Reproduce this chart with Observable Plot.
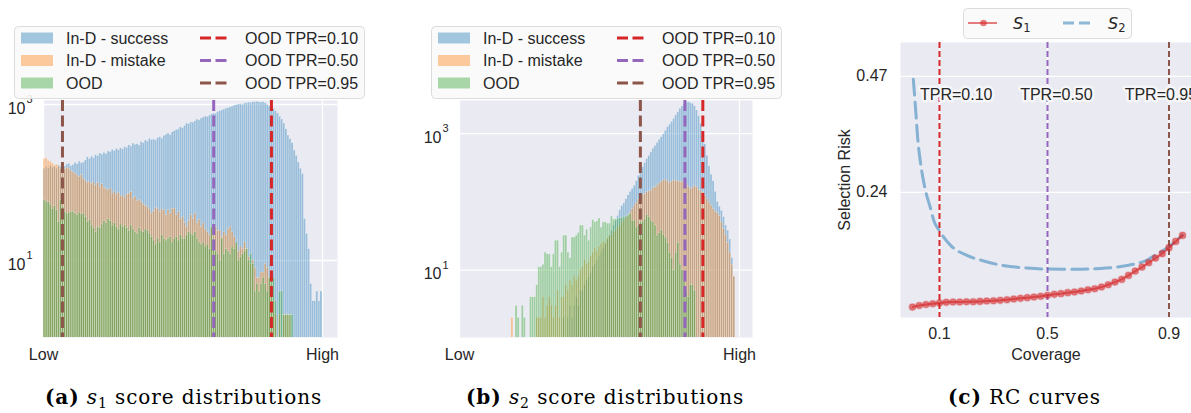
<!DOCTYPE html>
<html><head><meta charset="utf-8">
<script src="https://cdn.jsdelivr.net/npm/d3@7"></script>
<script src="https://cdn.jsdelivr.net/npm/@observablehq/plot@0.6"></script>
<style>
body{margin:0;background:#fff;}
#root{position:relative;width:1191px;height:413px;overflow:hidden;background:#fff;font-family:"Liberation Sans",Arial,sans-serif;}
.cap{position:absolute;top:385px;font-family:"DejaVu Serif",serif;font-size:20px;letter-spacing:0.9px;line-height:24px;color:#000;white-space:nowrap;}
.cap sub{font-size:70%;vertical-align:-0.25em;line-height:0;}
</style></head><body><div id="root"></div>
<script>
// ---------------- data ----------------
const N = 135; // common bins, score normalised Low=0 .. High=1
const seriesNames = ["In-D - success", "In-D - mistake", "OOD"];
const thrNames = ["OOD TPR=0.10", "OOD TPR=0.50", "OOD TPR=0.95"];

// panel (a): s1 score histogram counts
const a_success = [150,158,152,163,155,160,150,165,158,166,
160,170,174,162,168,178,172,185,176,180,
192,211,200,215,205,225,218,235,228,240,
232,250,245,262,252,270,258,275,265,285,
278,300,290,316,305,310,298,330,320,345,
335,363,350,355,346,372,380,365,395,410,
424,405,440,455,470,480,512,495,530,570,
560,590,585,610,640,625,660,680,700,690,
720,745,765,760,800,820,840,860,885,900,
920,940,970,985,1000,1010,990,1030,1040,1060,
1050,1080,1070,1085,1070,1060,1075,1040,990,950,
915,880,820,765,700,640,570,480,400,360,
320,257,220,180,150,128,34,22,14,5,
3,3,4,3,4];
const a_mistake = [200,205,190,185,175,165,170,160,150,143,
148,155,150,140,135,128,123,118,125,110,
105,99,102,96,100,92,99,88,95,85,
82,79,84,72,76,70,74,66,68,64,
70,72,75,62,65,58,60,56,52,50,
48,45,40,43,47,46,42,45,44,38,
44,40,46,46,38,42,34,36,30,27,
32,38,34,40,30,33,27,30,25,23,
21,26,22,27,24,24,20,23,21,25,
27,23,20,16,13,15,14,17,14,11,
9,10,8,6,6,7,7,9,8,6,
5,3,2,0,2,0,2,2,2,2,
0,0,0,0,0,0,0,0,0,0,
0,0,0,0,0];
const a_ood = [59,57,56,52,46,50,44,31,59,48,
42,40,41,42,42,40,38,41,39,40,
36,31,33,28,26,23,27,26,29,32,
30,34,32,28,30,27,25,29,27,28,
26,24,28,25,23,22,26,24,23,25,
24,22,20,18,16,19,17,21,19,18,
19,20,17,19,20,18,21,19,19,21,
23,22,21,23,19,17,16,17,15,16,
14,27,16,13,12,10,19,12,14,13,
12,15,14,17,10,11,12,13,14,10,
12,9,4,5,4,5,6,5,4,6,
6,6,3,0,4,4,2,2,2,2,
2,0,0,0,0,0,0,0,0,0,
0,0,0,0,0];
const a_thr = [0.817, 0.61, 0.068]; // TPR 0.10, 0.50, 0.95

// panel (b): s2 score histogram counts
const b_success = [0,0,0,0,0,0,0,0,0,0,
0,0,0,0,0,0,0,0,0,0,
0,0,0,0,0,0,0,0,0,0,
0,0,0,0,0,0,0,0,0,0,
0,0,0,0,0,0,0,0,0,0,
2,0,2,3,2,3,4,3,5,5,
6,7,8,9,11,12,14,16,18,21,
24,28,32,38,45,52,62,75,87,95,
109,125,140,155,172,200,240,286,320,370,
424,470,530,600,660,730,810,883,980,1100,
1240,1350,1480,1640,1850,2050,2300,2500,2650,2820,
2880,2800,2730,2500,2180,1800,1400,1000,700,474,
330,250,200,140,100,85,74,60,45,38,
28,15,8,0,0];
const b_mistake = [0,0,0,0,0,0,0,0,0,0,
0,0,0,0,0,0,0,0,0,0,
0,0,0,0,0,2,0,0,0,0,
0,0,0,0,0,0,0,2,2,2,
4,2,3,4,3,2,3,5,2,4,
4,6,5,7,6,8,7,8,10,11,
14,12,13,16,18,21,19,22,24,26,
25,29,31,33,36,38,42,45,50,54,
58,63,70,78,88,97,108,118,125,130,
138,142,145,158,165,172,185,195,205,210,
200,188,198,205,204,200,195,198,192,180,
165,154,160,170,163,150,145,137,122,109,
98,88,78,72,68,62,50,40,33,25,
18,12,8,0,0];
const b_ood = [0,0,0,0,0,0,0,0,0,0,
0,0,0,0,0,0,0,0,0,0,
0,0,0,0,0,0,0,3,2,0,
3,2,0,0,4,4,4,6,11,11,
12,18,17,17,11,17,27,27,11,18,
32,32,18,15,30,30,32,35,45,45,
32,39,27,42,54,50,52,57,42,50,
50,48,48,61,55,56,56,58,58,60,
61,63,66,53,53,42,45,50,50,55,
64,60,53,50,45,32,35,38,33,30,
25,18,15,10,18,25,12,10,7,5,
4,6,6,5,0,0,0,0,0,0,
0,0,0,0,0,0,0,0,0,0,
0,0,0,0,0];
const b_thr = [0.869, 0.805, 0.646];

// panel (c): risk-coverage curves
const s1_cov = [0,0.025,0.05,0.075,0.1,0.125,0.15,0.175,0.2,0.225,0.25,0.275,0.3,0.325,0.35,0.375,0.4,0.425,0.45,0.475,0.5,
0.525,0.55,0.575,0.6,0.625,0.65,0.675,0.7,0.725,0.75,0.775,0.8,0.825,0.85,0.875,0.9,0.925,0.95,0.975,1.0];
const s1_risk = [0.0126,0.0159,0.0179,0.0193,0.0206,0.022,0.0226,0.0226,0.0233,0.0233,0.0239,0.0246,0.0253,0.026,0.0273,0.0286,0.03,0.0313,0.0326,0.034,0.036,
0.0379,0.0393,0.0412,0.0425,0.0444,0.0471,0.049,0.0523,0.057,0.0622,0.0675,0.0754,0.084,0.0919,0.1006,0.1097,0.1185,0.1304,0.1428,0.1547];
const s2_cov = [0.003,0.011,0.020,0.032,0.048,0.067,0.079,0.101,0.141,0.202,0.264,0.326,0.425,0.499,0.598,0.696,0.795,0.869,0.906,0.943,0.999];
const s2_risk = [0.464,0.409,0.343,0.29,0.244,0.208,0.184,0.163,0.135,0.115,0.104,0.096,0.090,0.088,0.0875,0.089,0.095,0.106,0.118,0.130,0.155];
const tprCov = [0.1, 0.5, 0.95];
const tprText = ["TPR=0.10", "TPR=0.50", "TPR=0.95"];
const tprLabelCov = [0.162, 0.533, 0.92];
const tprLabelRisk = 0.434;
const covTicks = [0.1, 0.5, 0.95];
const covTickLabels = ["0.1", "0.5", "0.9"];
const riskTicks = [0.24, 0.47];
const histTicks = [10, 1000];
const histExp = ["1", "3"];

// ---------------- style ----------------
const C = {blue:"#1f77b4", orange:"#ff7f0e", green:"#2ca02c", red:"#d62728", purple:"#9467bd", brown:"#8c564b", bg:"#eaeaf2", text:"#262626"};
const thrColors = [C.red, C.purple, C.brown];
const baseStyle = {background:"transparent", color:C.text, fontFamily:"'Liberation Sans', Arial, sans-serif", fontSize:"16px", overflow:"visible"};
const root = document.getElementById("root");

function place(el, left, top) {
  el.style.position = "absolute"; el.style.left = left + "px"; el.style.top = top + "px";
  root.appendChild(el);
}

function hist(success, mistake, ood, thr, yMax, width, mLeft, mRight, xMax) {
  const mk = arr => arr.map((c, i) => ({x1: i / N, x2: (i + 1) / N, c})).filter(d => d.c > 0);
  const bar = (arr, color) => Plot.rectY(mk(arr), {x1:"x1", x2:"x2", y1:0.5, y2:"c", fill:color, fillOpacity:0.4,
    stroke:"#ffffff", strokeOpacity:0.45, strokeWidth:0.5, clip:true});
  return Plot.plot({
    width, height:370, marginLeft:mLeft, marginRight:mRight, marginTop:100, marginBottom:33,
    style: baseStyle,
    x: {domain:[0, xMax], label:null},
    y: {type:"log", domain:[1.03, yMax], label:null},
    marks: [
      Plot.frame({fill:C.bg, stroke:null}),
      Plot.gridY(histTicks, {stroke:"#fff", strokeOpacity:1, strokeWidth:1.3}),
      Plot.gridX([0, 1], {stroke:"#fff", strokeOpacity:1, strokeWidth:1.3}),
      bar(success, C.blue), bar(mistake, C.orange), bar(ood, C.green),
      ...thr.map((t, i) => Plot.ruleX([t], {stroke:thrColors[i], strokeWidth:3, strokeDasharray:"11,4.5"})),
      Plot.axisX([0, 1], {tickFormat: d => d === 0 ? "Low" : "High", tickSize:0, tickPadding:11, fontSize:16}),
      Plot.axisY(histTicks, {tickFormat: () => "10", tickSize:0, tickPadding:18, dy:4, fontSize:16}),
      Plot.text(histTicks, {y: d => d, text: (d, i) => histExp[i], frameAnchor:"left", dx:-17, dy:-5, textAnchor:"start", fontSize:11})
    ]
  });
}

function histLegend(x0) {
  const rows = [0, 1, 2].map(i => {
    const y = 38 + i * 22.5;
    const sc = [C.blue, C.orange, C.green][i];
    return `<rect x="7" y="${y - 5.5}" width="32" height="11" fill="${sc}" fill-opacity="0.4"/>
      <text x="52" y="${y}" dominant-baseline="central">${seriesNames[i]}</text>
      <line x1="186" x2="215.5" y1="${y}" y2="${y}" stroke="${thrColors[i]}" stroke-width="3" stroke-dasharray="11,4.5"/>
      <text x="231" y="${y}" dominant-baseline="central">${thrNames[i]}</text>`;
  }).join("");
  const d = document.createElement("div");
  d.innerHTML = `<svg width="360" height="105" style="display:block;font-family:'Liberation Sans',Arial,sans-serif;font-size:16px;fill:${C.text}">
    <rect x="0.5" y="26.5" width="350" height="72" rx="4" fill="#fafafb" fill-opacity="0.9" stroke="#dcdcdc"/>${rows}</svg>`;
  place(d, x0, 0);
}

// panel (a)
place(hist(a_success, a_mistake, a_ood, a_thr, 1125, 345, 43, 8, 294 / 279), 0, 0);
// panel (b)
place(hist(b_success, b_mistake, b_ood, b_thr, 3050, 360, 59, 8, 293 / 280), 400, 0);
histLegend(14);
histLegend(430.5);

// panel (c)
const s1 = s1_cov.map((c, i) => ({c, r: s1_risk[i]}));
const s2 = s2_cov.map((c, i) => ({c, r: s2_risk[i]}));
const labs = tprText.map((t, i) => ({t, c: tprLabelCov[i], r: tprLabelRisk}));
const rc = Plot.plot({
  width:391, height:370, marginLeft:100, marginRight:0, marginTop:42, marginBottom:53,
  style: baseStyle,
  x: {domain:[-0.0444, 1.0333], label:null},
  y: {domain:[-0.008, 0.537], label:null},
  marks: [
    Plot.frame({fill:C.bg, stroke:null}),
    Plot.gridY(riskTicks, {stroke:"#fff", strokeOpacity:1, strokeWidth:1.3}),
    Plot.gridX(covTicks, {stroke:"#fff", strokeOpacity:1, strokeWidth:1.3}),
    ...tprCov.map((t, i) => Plot.ruleX([t], {stroke:thrColors[i], strokeWidth:2, strokeDasharray:"6,3"})),
    Plot.text(labs, {x:"c", y:"r", text:"t", fontSize:16, fill:C.text, stroke:"#f6f6f8", strokeWidth:5, strokeLinejoin:"round"}),
    Plot.line(s2, {x:"c", y:"r", stroke:C.blue, strokeOpacity:0.5, strokeWidth:3, strokeDasharray:"16,7", curve:"monotone-x"}),
    Plot.line(s1, {x:"c", y:"r", stroke:C.red, strokeOpacity:0.6, strokeWidth:2}),
    Plot.dot(s1, {x:"c", y:"r", r:3.3, fill:C.red, fillOpacity:0.6, stroke:C.red, strokeOpacity:0.25}),
    Plot.axisX(covTicks, {tickFormat: d => covTickLabels[covTicks.indexOf(d)], tickSize:0, tickPadding:10, fontSize:16}),
    Plot.axisY(riskTicks, {tickFormat: d => d.toFixed(2), tickSize:0, tickPadding:13, fontSize:16}),
    Plot.text(["Coverage"], {frameAnchor:"bottom", textAnchor:"middle", lineAnchor:"middle", dy:37, fontSize:16}),
    Plot.text(["Selection Risk"], {frameAnchor:"left", textAnchor:"middle", lineAnchor:"middle", dx:-56, rotate:-90, fontSize:16})
  ]
});
place(rc, 800, 0);

// legend (c)
const lc = document.createElement("div");
lc.innerHTML = `<svg width="180" height="45" style="display:block;fill:${C.text}">
  <rect x="3.5" y="8.5" width="168" height="30" rx="4" fill="#fafafb" fill-opacity="0.9" stroke="#dcdcdc"/>
  <line x1="8" x2="37" y1="23" y2="23" stroke="${C.red}" stroke-opacity="0.6" stroke-width="2"/>
  <circle cx="23.5" cy="23" r="3.3" fill="${C.red}" fill-opacity="0.6"/>
  <text x="53" y="28.5" font-family="DejaVu Sans" font-style="italic" font-size="16">S<tspan font-size="11.5" dy="3" font-style="normal">1</tspan></text>
  <line x1="103" x2="133" y1="23" y2="23" stroke="${C.blue}" stroke-opacity="0.5" stroke-width="3" stroke-dasharray="11,5"/>
  <text x="148" y="28.5" font-family="DejaVu Sans" font-style="italic" font-size="16">S<tspan font-size="11.5" dy="3" font-style="normal">2</tspan></text>
</svg>`;
place(lc, 960, 0);

// captions
const caps = [
  [45, "<b>(a)</b> <i>s</i><sub>1</sub> score distributions"],
  [466, "<b>(b)</b> <i>s</i><sub>2</sub> score distributions"],
  [948, "<b>(c)</b> RC curves"]
];
caps.forEach(([x, h]) => { const d = document.createElement("div"); d.className = "cap"; d.style.left = x + "px"; d.innerHTML = h; root.appendChild(d); });
</script></body></html>
